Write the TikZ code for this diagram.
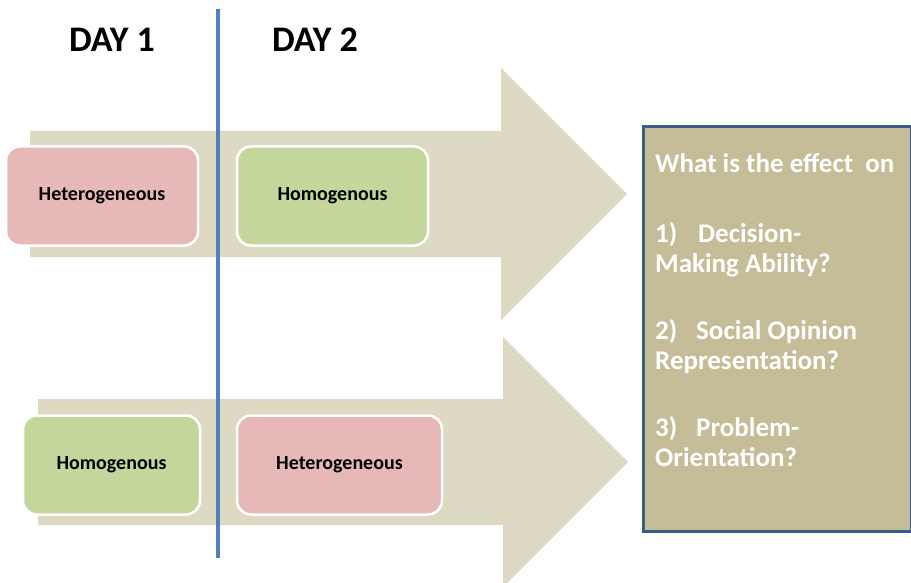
\documentclass[tikz,border=0pt]{standalone}
\usepackage{fontspec}
\setmainfont{Carlito}
\usepackage{tikz}

\definecolor{ArrowTan}{HTML}{DDD9C3}
\definecolor{HeteroPink}{HTML}{E6B9B8}
\definecolor{HomoGreen}{HTML}{C3D69B}
\definecolor{QuestionTan}{HTML}{C4BD97}
\definecolor{QuestionBorder}{HTML}{385D8A}
\definecolor{DividerBlue}{HTML}{4F81BD}

\begin{document}
\begin{tikzpicture}[x=1pt, y=-1pt,
    daylabel/.style={font=\bfseries\fontsize{36}{40}\selectfont, anchor=base},
    groupbox/.style={draw=white, line width=2.5pt, rounded corners=14pt,
      minimum height=99pt, font=\bfseries\fontsize{20}{24}\selectfont},
    hetero/.style={groupbox, fill=HeteroPink},
    homo/.style={groupbox, fill=HomoGreen},
    questionbox/.style={draw=QuestionBorder, line width=3pt, fill=QuestionTan,
      minimum width=268pt, minimum height=405pt, anchor=north west}]
  \useasboundingbox (0,0) rectangle (911,583);
  \clip (0,0) rectangle (911,583);

  \fill[ArrowTan] (30,131) -- (501,131) -- (501,68) -- (627,194) -- (501,320) -- (501,257) -- (30,257) -- cycle;
  \fill[ArrowTan] (38,399) -- (503,399) -- (503,337) -- (628,462) -- (503,587) -- (503,525) -- (38,525) -- cycle;

  \coordinate (divtop) at (218,9);
  \coordinate (divbot) at (218,558);
  \draw[DividerBlue, line width=3.5pt] (divtop) -- (divbot);

  \node[daylabel] (day1) at (112,52) {DAY 1};
  \node[daylabel] (day2) at (315,52) {DAY 2};

  \node[hetero, minimum width=192pt] (hetA) at (102,196) {Heterogeneous};
  \node[homo, minimum width=191pt] (homA) at (332.5,196) {Homogenous};
  \node[homo, minimum width=177pt] (homB) at (111.5,465) {Homogenous};
  \node[hetero, minimum width=205pt] (hetB) at (339.5,465) {Heterogeneous};

  \node[questionbox] (effects) at (642,125) {};
  \node[anchor=north west, inner sep=0pt, align=left, text=white,
    font=\bfseries\fontsize{27}{30}\selectfont] (questions)
    at ([shift={(13,28)}]effects.north west)
    {What is the effect~ on\\[40pt]
     \makebox[43pt][l]{1)}Decision-\\
     Making Ability?\\[37pt]
     \makebox[41pt][l]{2)}Social Opinion\\
     Representation?\\[37pt]
     \makebox[41pt][l]{3)}Problem-\\
     Orientation?};
\end{tikzpicture}
\end{document}
